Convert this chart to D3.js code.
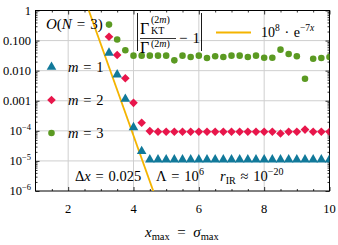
<!DOCTYPE html>
<html>
<head>
<meta charset="utf-8">
<script src="https://cdn.jsdelivr.net/npm/d3@7"></script>
<style>
body{margin:0;background:#fff}
text{font-family:"Liberation Serif","DejaVu Serif",serif;fill:#000}
</style>
</head>
<body>
<svg id="chart" width="338" height="245"></svg>
<script>
// x grid of the simulations (x_max)
const xGrid = [3.25,3.5,3.75,4,4.25,4.5,4.75,5,5.25,5.5,5.75,6,6.25,6.5,6.75,7,7.25,7.5,7.75,8,8.25,8.5,8.75,9,9.25,9.5,9.75,10]

// relative deviation |Gamma_KT / Gamma - 1| for m = 1, 2, 3
const m1 = [0.039,0.0074,0.00115,1.3e-4,2.1e-5,1.1e-5,1.1e-5,1.1e-5,1.1e-5,1.1e-5,1.1e-5,1.1e-5,1.1e-5,1.1e-5,
  1.1e-5,1.1e-5,1.1e-5,1.1e-5,1.1e-5,1.1e-5,1.1e-5,1.1e-5,1.1e-5,1.1e-5,1.1e-5,1.1e-5,1.1e-5,1.1e-5]
const m2 = [0.134,0.033,0.0056,8.5e-4,1.86e-4,9.8e-5,9.3e-5,9.3e-5,9.3e-5,9.3e-5,9.3e-5,9.3e-5,9.3e-5,9.3e-5,
  9.3e-5,9.3e-5,9.3e-5,9.3e-5,9.3e-5,9.3e-5,9.3e-5,8.2e-5,9.3e-5,9.3e-5,1.1e-4,9.3e-5,9.3e-5,9.3e-5]
const m3 = [0.34,0.108,0.048,0.0316,0.0316,0.0316,0.0316,0.0316,0.022,0.0316,0.0286,0.0316,0.0265,0.030,
  0.0286,0.0316,0.0316,0.0286,0.0316,0.027,0.027,0.050,0.036,0.030,0.0054,0.025,0.0265,0.0286]

// reference curve 1e8 * exp(-7x)
const fitPrefactor = 1e8
const fitRate = 7
const fitX = [1, 10]

const xTicks = [2,4,6,8,10]
const yTicks = [1,0.1,0.01,0.001,1e-4,1e-5,1e-6]
const yTickLabels = [["1",""],["0.100",""],["0.010",""],["0.001",""],["10","\u22124"],["10","\u22125"],["10","\u22126"]]

const blue = '#11799a', red = '#e8164b', green = '#5b9a22', orange = '#f4b400'
const eq = '\u2004=\u2004'

const svg = d3.select('#chart')
const pLeft = 35.5, pRight = 329.5, pTop = 10.5, pBottom = 191

const x = d3.scaleLinear().domain([1,10]).range([pLeft,pRight])
const y = d3.scaleLog().domain([1e-6,1]).range([pBottom,pTop])

// grid
svg.append('g').selectAll('line').data(xTicks.filter(d => d < 10)).join('line')
  .attr('x1', d => x(d)).attr('x2', d => x(d)).attr('y1', pTop).attr('y2', pBottom)
  .attr('stroke', '#cfcfcf').attr('stroke-width', 1)
svg.append('g').selectAll('line').data(yTicks.slice(1, -1)).join('line')
  .attr('y1', d => y(d)).attr('y2', d => y(d)).attr('x1', pLeft).attr('x2', pRight)
  .attr('stroke', '#cfcfcf').attr('stroke-width', 1)

// ticks (inward) on all four sides
const xMinor = d3.range(1.5, 10, 0.5).filter(d => d % 2 !== 0)
const yMinor = []
for (let e = -6; e < 0; e++) for (let k = 2; k < 10; k++) yMinor.push(k * Math.pow(10, e))

const sides = [
  [() => d3.axisBottom(x), `translate(0,${pBottom})`, xTicks, xMinor],
  [() => d3.axisTop(x), `translate(0,${pTop})`, xTicks, xMinor],
  [() => d3.axisLeft(y), `translate(${pLeft},0)`, yTicks, yMinor],
  [() => d3.axisRight(y), `translate(${pRight},0)`, yTicks, yMinor]
]
sides.forEach(([make, tr, maj, min]) => {
  const g = svg.append('g').attr('transform', tr)
  g.append('g').call(make().tickValues(maj).tickSize(-4).tickFormat(''))
  g.append('g').call(make().tickValues(min).tickSize(-2).tickFormat(''))
  g.selectAll('.domain').remove()
  g.selectAll('line').attr('stroke', '#000').attr('stroke-width', 0.8)
})

// frame
svg.append('rect').attr('x', pLeft).attr('y', pTop).attr('width', pRight-pLeft).attr('height', pBottom-pTop)
  .attr('fill', 'none').attr('stroke', '#000').attr('stroke-width', 1)

// tick labels
svg.append('g').selectAll('text').data(xTicks).join('text')
  .attr('x', d => x(d)).attr('y', 213).attr('text-anchor', 'middle').attr('font-size', 12.5)
  .text(d => d)
const yl = svg.append('g').selectAll('text').data(yTicks).join('text')
  .attr('x', 31).attr('y', d => y(d) + 4).attr('text-anchor', 'end').attr('font-size', 12.5)
yl.each(function(d, i){
  const t = d3.select(this)
  t.append('tspan').text(yTickLabels[i][0])
  if (yTickLabels[i][1]) t.append('tspan').attr('dy', -5).attr('font-size', 8.5).text(yTickLabels[i][1])
})

// clip
svg.append('clipPath').attr('id', 'clip').append('rect')
  .attr('x', pLeft).attr('y', pTop).attr('width', pRight-pLeft).attr('height', pBottom-pTop)

// reference curve
const line = d3.line().x(d => x(d)).y(d => y(fitPrefactor * Math.exp(-fitRate * d)))
svg.append('path').datum(fitX).attr('d', line).attr('clip-path', 'url(#clip)')
  .attr('fill', 'none').attr('stroke', orange).attr('stroke-width', 1.8)

// markers
const tri = d3.symbol().type(d3.symbolTriangle).size(40)()
const diamond = 'M0,-4.3L4.3,0L0,4.3L-4.3,0Z'
const circle = d3.symbol().type(d3.symbolCircle).size(34)()

function drawSeries(vals, shape, color){
  svg.append('g').attr('clip-path', 'url(#clip)').selectAll('path').data(vals).join('path')
    .attr('d', shape).attr('fill', color)
    .attr('transform', (d, i) => `translate(${x(xGrid[i])},${y(d)})`)
}
drawSeries(m3, circle, green)
drawSeries(m2, diamond, red)
drawSeries(m1, tri, blue)

// left legend
const leg = [[tri, blue, '1', 67], [diamond, red, '2', 100], [circle, green, '3', 133]]
leg.forEach(([s, c, n, ly]) => {
  svg.append('path').attr('d', s).attr('fill', c).attr('transform', `translate(51.5,${ly})`)
  const t = svg.append('text').attr('x', 68).attr('y', ly + 5).attr('font-size', 14.5)
  t.append('tspan').attr('font-style', 'italic').text('m')
  t.append('tspan').text(eq + n)
})

// O(N = 3)
const on = svg.append('text').attr('x', 46).attr('y', 29).attr('font-size', 15)
on.append('tspan').attr('font-style', 'italic').text('O')
on.append('tspan').text('(')
on.append('tspan').attr('font-style', 'italic').text('N')
on.append('tspan').text(eq + '3)')

// fraction legend
const fg = svg.append('g')
fg.append('line').attr('x1', 137.5).attr('x2', 137.5).attr('y1', 13).attr('y2', 51).attr('stroke', '#000').attr('stroke-width', 0.9)
fg.append('line').attr('x1', 201.5).attr('x2', 201.5).attr('y1', 13).attr('y2', 51).attr('stroke', '#000').attr('stroke-width', 0.9)
fg.append('line').attr('x1', 140).attr('x2', 176).attr('y1', 38.5).attr('y2', 38.5).attr('stroke', '#000').attr('stroke-width', 0.8)
fg.append('text').attr('x', 140).attr('y', 34).attr('font-size', 16).text('\u0393')
fg.append('text').attr('x', 151).attr('y', 23).attr('font-size', 10).html('(2<tspan font-style="italic">m</tspan>)')
fg.append('text').attr('x', 151).attr('y', 34).attr('font-size', 10).text('KT')
fg.append('text').attr('x', 140).attr('y', 53).attr('font-size', 16).text('\u0393')
fg.append('text').attr('x', 151).attr('y', 47).attr('font-size', 10).html('(2<tspan font-style="italic">m</tspan>)')
fg.append('text').attr('x', 179).attr('y', 43).attr('font-size', 15).text('\u2212\u20041')

// curve legend
svg.append('line').attr('x1', 216).attr('x2', 251).attr('y1', 32.5).attr('y2', 32.5)
  .attr('stroke', orange).attr('stroke-width', 1.8)
const cl = svg.append('text').attr('x', 261).attr('y', 37).attr('font-size', 14)
cl.append('tspan').text('10')
cl.append('tspan').attr('dy', -6).attr('font-size', 9.5).text('8')
cl.append('tspan').attr('dy', 6).text('\u2004\u00b7\u2004e')
cl.append('tspan').attr('dy', -6).attr('font-size', 9.5).html('\u22127<tspan font-style="italic">x</tspan>')

// parameters
const pt = svg.append('text').attr('x', 75).attr('y', 181).attr('font-size', 14.5)
pt.append('tspan').text('\u0394')
pt.append('tspan').attr('font-style', 'italic').text('x')
pt.append('tspan').text(eq + '0.025')
pt.append('tspan').attr('x', 156).text('\u039b' + eq + '10')
pt.append('tspan').attr('dy', -6).attr('font-size', 10).text('6')
pt.append('tspan').attr('dy', 6).attr('x', 220).attr('font-style', 'italic').text('r')
pt.append('tspan').attr('dy', 3).attr('font-size', 10).text('IR')
pt.append('tspan').attr('dy', -3).text('\u2004\u2248\u200410')
pt.append('tspan').attr('dy', -6).attr('font-size', 10).text('\u221220')

// x label
const xl = svg.append('text').attr('x', 145).attr('y', 237).attr('font-size', 15)
xl.append('tspan').attr('font-style', 'italic').text('x')
xl.append('tspan').attr('dy', 3).attr('font-size', 10.5).text('max')
xl.append('tspan').attr('dy', -3).text('\u2002=\u2002')
xl.append('tspan').attr('font-style', 'italic').text('\u03c3')
xl.append('tspan').attr('dy', 3).attr('font-size', 10.5).text('max')
</script>
</body>
</html>
